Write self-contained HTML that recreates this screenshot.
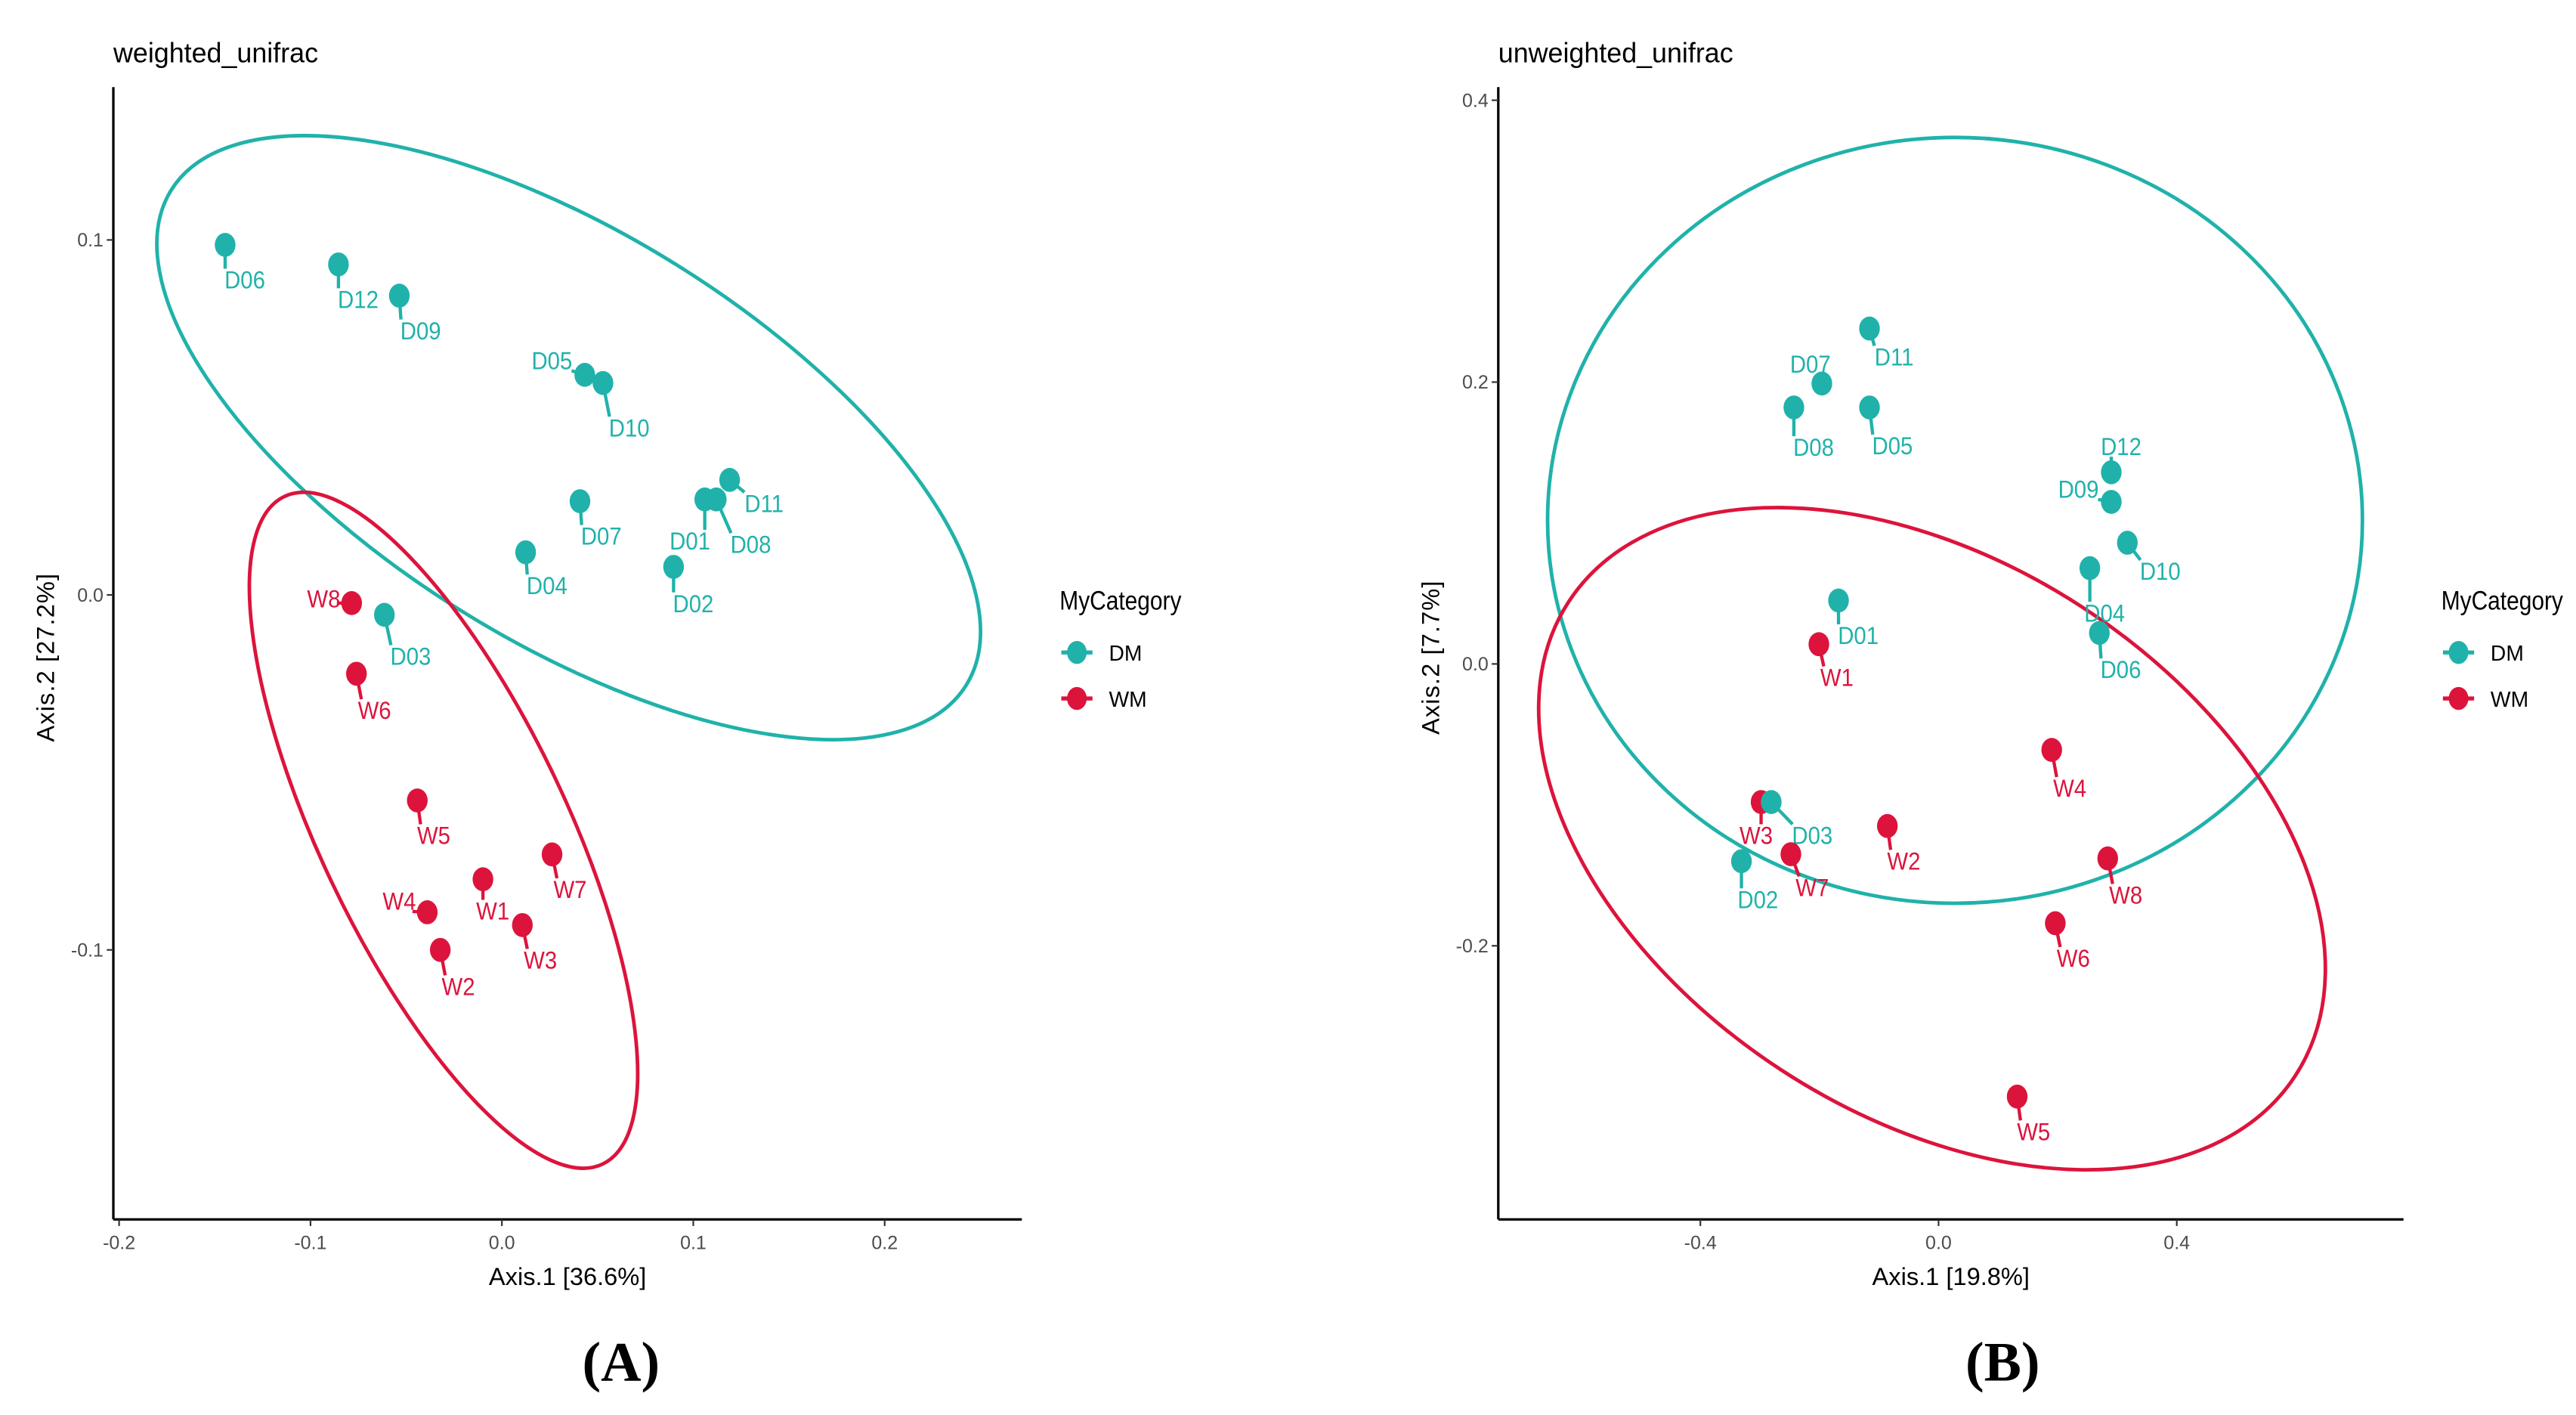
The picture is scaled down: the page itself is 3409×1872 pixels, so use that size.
<!DOCTYPE html>
<html><head><meta charset="utf-8">
<style>
html,body{margin:0;padding:0;background:#fff;}
svg{display:block;}
text{font-family:"Liberation Sans Narrow","Liberation Sans",sans-serif;}
</style></head>
<body>
<svg id="fig" width="3409" height="1872" viewBox="0 0 1568 861" preserveAspectRatio="none" xmlns="http://www.w3.org/2000/svg">
<rect x="0" y="0" width="1568" height="861" fill="#fff"/>
<text x="378" y="840" font-weight="bold" font-size="34" text-anchor="middle" style="font-family:'Liberation Serif',serif">(A)</text>
<text x="1219" y="840" font-weight="bold" font-size="34" text-anchor="middle" style="font-family:'Liberation Serif',serif">(B)</text>
</svg>
<script>
// ---------- Panel A data (weighted_unifrac) ----------
const namesA = ["D06","D12","D09","D05","D10","D11","D01","D08","D07","D04","D02","D03","W8","W6","W5","W7","W1","W3","W4","W2"];
const axis1A = [-0.1446,-0.0854,-0.0536,0.0433,0.0528,0.119,0.106,0.112,0.0408,0.0124,0.0897,-0.0614,-0.0785,-0.076,-0.0442,0.0262,-0.0099,0.0107,-0.039,-0.0322];
const axis2A = [0.0986,0.0931,0.0843,0.062,0.0597,0.0324,0.0269,0.0269,0.0264,0.012,0.0079,-0.0056,-0.0023,-0.0222,-0.0579,-0.0731,-0.0801,-0.093,-0.0894,-0.1];
const xTicksA = [-0.2,-0.1,0.0,0.1,0.2];
const xTickLabelsA = ["-0.2","-0.1","0.0","0.1","0.2"];
const yTicksA = [0.1,0.0,-0.1];
const yTickLabelsA = ["0.1","0.0","-0.1"];
const ellCenterXA = [0.0349,-0.0305];
const ellCenterYA = [0.0443,-0.0663];
// ---------- Panel B data (unweighted_unifrac) ----------
const namesB = ["D11","D07","D08","D05","D12","D09","D10","D04","D06","D01","W1","W4","W3","D03","W2","W7","D02","W8","W6","W5"];
const axis1B = [-0.116,-0.196,-0.243,-0.116,0.29,0.29,0.317,0.254,0.27,-0.168,-0.201,0.19,-0.298,-0.281,-0.086,-0.248,-0.331,0.284,0.196,0.132];
const axis2B = [0.238,0.199,0.182,0.182,0.136,0.115,0.086,0.068,0.022,0.045,0.014,-0.061,-0.098,-0.098,-0.115,-0.135,-0.14,-0.138,-0.184,-0.307];
const xTicksB = [-0.4,0.0,0.4];
const xTickLabelsB = ["-0.4","0.0","0.4"];
const yTicksB = [0.4,0.2,0.0,-0.2];
const yTickLabelsB = ["0.4","0.2","0.0","-0.2"];
const ellCenterXB = [0.0276,-0.011];
const ellCenterYB = [0.1019,-0.1240];

// ---------- layout (pixels, not data) ----------
const labelOffA = [[12,21],[12,21],[13,21],[-20,-9],[16,27],[21,14],[-9,25],[21,27],[13,21],[13,20],[12,22],[16,25],[-17,-3],[11,22],[10,21],[11,21],[6,19],[11,21],[-17,-7],[11,22]];
const labelOffB = [[15,17],[-7,-12],[12,24],[14,23],[6,-16],[-20,-8],[20,17],[9,27],[13,22],[12,21],[11,20],[11,23],[-3,20],[25,20],[10,21],[13,20],[10,23],[11,22],[11,21],[10,21]];
const colD = "#20b2aa", colW = "#dc143c";
const svg = document.getElementById('fig');
const NS = "http://www.w3.org/2000/svg";
function mk(tag, attrs, parent){const e=document.createElementNS(NS,tag);for(const k in attrs)e.setAttribute(k,attrs[k]);(parent||svg).appendChild(e);return e;}
function squeeze(el,f){try{const w=el.getComputedTextLength();if(w>0){el.setAttribute('textLength',w*f);el.setAttribute('lengthAdjust','spacingAndGlyphs');}}catch(e){}}

function panel(cfg){
  const g = mk('g',{});
  
  
  const sx = v => cfg.x0 + v*cfg.kx;
  const sy = v => cfg.y0 - v*cfg.ky;
  const t = mk('text',{x:cfg.left,y:38,'font-size':17,fill:'#000'},g); t.textContent=cfg.title;
  
  
  squeeze(t,0.97);
  for(let i=0;i<2;i++){
    const e = cfg.ell[i];
    const cx = sx(cfg.ecx[i]), cy = sy(cfg.ecy[i]);
    const el = mk('ellipse',{cx:cx,cy:cy,rx:e[0],ry:e[1],transform:`rotate(${e[2]} ${cx} ${cy})`,fill:'none',stroke:i?colW:colD,'stroke-width':2.2},g);
    
    
  }
  const ya = mk('line',{x1:cfg.left,y1:53,x2:cfg.left,y2:742,stroke:'#000','stroke-width':1.5},g);
  
  
  const xa = mk('line',{x1:cfg.left,y1:742,x2:cfg.right,y2:742,stroke:'#000','stroke-width':1.5},g);
  
  
  cfg.xt.forEach((v,i)=>{
    const x=sx(v);
    const tk=mk('line',{x1:x,y1:742,x2:x,y2:746,stroke:'#333','stroke-width':1},g);
    
    
    const tl=mk('text',{x:x,y:760,'font-size':11.5,fill:'#4d4d4d','text-anchor':'middle'},g); tl.textContent=cfg.xtl[i];
    
    
  });
  cfg.yt.forEach((v,i)=>{
    const y=sy(v);
    const tk=mk('line',{x1:cfg.left-4,y1:y,x2:cfg.left,y2:y,stroke:'#333','stroke-width':1},g);
    
    
    const tl=mk('text',{x:cfg.left-6,y:y+4,'font-size':11.5,fill:'#4d4d4d','text-anchor':'end'},g); tl.textContent=cfg.ytl[i];
    
    
  });
  const xt=mk('text',{x:(cfg.left+cfg.right)/2,y:782,'font-size':15,fill:'#000','text-anchor':'middle'},g); xt.textContent=cfg.xlab;
  
  
  const yx=cfg.left-36, yy=400;
  const yt=mk('text',{x:yx,y:yy,'font-size':15,fill:'#000','text-anchor':'middle',transform:`rotate(-90 ${yx} ${yy})`,'letter-spacing':'0.5'},g); yt.textContent=cfg.ylab;
  
  
  cfg.names.forEach((n,i)=>{
    const px=sx(cfg.xs[i]), py=sy(cfg.ys[i]);
    const c = n[0]==='D'?colD:colW;
    const off = cfg.off[i];
    const lx=px+off[0], ly=py+off[1];
    const w = n.length*8, h=13;
    const nx=Math.max(lx-w/2,Math.min(px,lx+w/2)), ny=Math.max(ly-h/2,Math.min(py,ly+h/2));
    const d=Math.hypot(nx-px,ny-py);
    if(d>8){
      const sg=mk('line',{x1:px,y1:py,x2:nx,y2:ny,stroke:c,'stroke-width':2},g);
      
      
    }
    const p=mk('ellipse',{cx:px,cy:py,rx:6.3,ry:7.3,fill:c},g);
    
    
    const lb=mk('text',{x:lx,y:ly+5.5,'font-size':15,fill:c,'text-anchor':'middle'},g); lb.textContent=n;
    
    
    squeeze(lb,0.9);
  });
  const L=cfg.legX;
  const lt=mk('text',{x:L,y:371,'font-size':16,fill:'#000'},g); lt.textContent='MyCategory';
  
  
  squeeze(lt,0.86);
  [['DM',colD,397],['WM',colW,425]].forEach(k=>{
    const ln=mk('line',{x1:L+1,y1:k[2],x2:L+20,y2:k[2],stroke:k[1],'stroke-width':2.5},g);
    
    
    const dt=mk('ellipse',{cx:L+10.5,cy:k[2],rx:6,ry:7,fill:k[1]},g);
    
    
    const tx=mk('text',{x:L+30,y:k[2]+5,'font-size':13,fill:'#000'},g); tx.textContent=k[0];
    
    
  });
}

panel({id:'panel-a-weighted-unifrac',title:'weighted_unifrac',left:69,right:622,x0:305.5,kx:1165,y0:362,ky:2160,
  names:namesA,xs:axis1A,ys:axis2A,off:labelOffA,xt:xTicksA,xtl:xTickLabelsA,yt:yTicksA,ytl:yTickLabelsA,
  xlab:'Axis.1 [36.6%]',ylab:'Axis.2 [27.2%]',legX:645,
  ecx:ellCenterXA,ecy:ellCenterYA,ell:[[285,124,31.9],[225,75,64.5]]});
panel({id:'panel-b-unweighted-unifrac',title:'unweighted_unifrac',left:912,right:1463,x0:1180,kx:362.5,y0:404,ky:857.5,
  names:namesB,xs:axis1B,ys:axis2B,off:labelOffB,xt:xTicksB,xtl:xTickLabelsB,yt:yTicksB,ytl:yTickLabelsB,
  xlab:'Axis.1 [19.8%]',ylab:'Axis.2 [7.7%]',legX:1486,
  ecx:ellCenterXB,ecy:ellCenterYB,ell:[[248,233,0],[264,168,33.1]]});
</script>
</body></html>
